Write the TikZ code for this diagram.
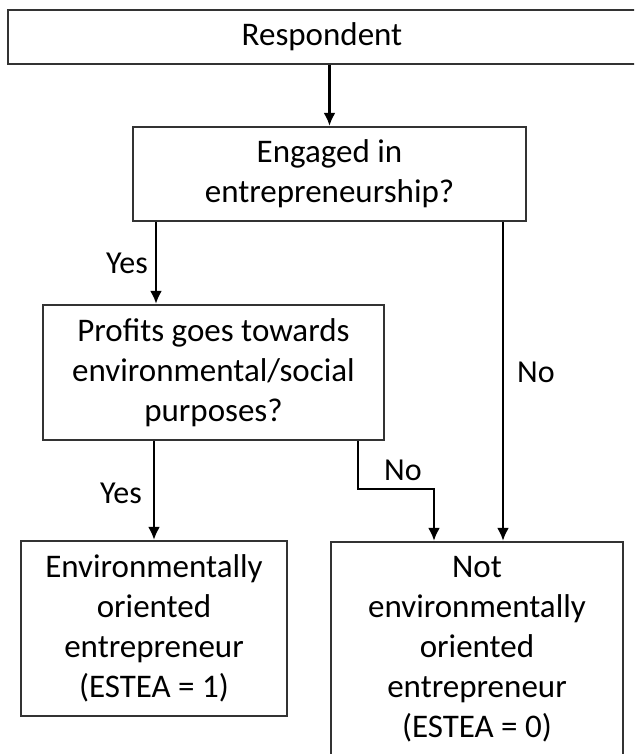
\documentclass[tikz,border=0pt]{standalone}
\usepackage{fontspec}
\setmainfont{Carlito}
\usetikzlibrary{arrows.meta}
\begin{document}
\begin{tikzpicture}[x=1pt,y=-1pt,
  box/.style={draw=black!80, line width=2.2pt, inner sep=0pt, align=center,
    font=\fontsize{33}{40}\selectfont, text=black},
  lbl/.style={font=\fontsize{32}{38}\selectfont, text=black, inner sep=0pt},
  arr/.style={draw=black, line width=2.6pt, -{Latex[length=13pt,width=12pt]}},
  ln/.style={draw=black, line width=2.6pt}]
\useasboundingbox (0,0) rectangle (634,754);
\clip (0,0) rectangle (634,754);
\fill[white] (0,0) rectangle (634,754);

\node[box, minimum width=628pt, minimum height=54pt] (resp) at (322,37) {Respondent};
\node[box, minimum width=393pt, minimum height=94pt] (eng) at (329.5,174) {Engaged in\\entrepreneurship?};
\node[box, minimum width=341pt, minimum height=135pt] (prof) at (213.5,372.5) {Profits goes towards\\environmental/social\\purposes?};
\node[box, minimum width=266pt, minimum height=175pt] (env) at (154,628.5) {Environmentally\\oriented\\entrepreneur\\(ESTEA = 1)};
\node[box, minimum width=292pt, minimum height=214pt] (nenv) at (477,649) {Not\\environmentally\\oriented\\entrepreneur\\(ESTEA = 0)};

\coordinate (xa) at (156,0);
\coordinate (xb) at (503,0);
\coordinate (xc) at (154,0);
\coordinate (xd) at (358,0);
\coordinate (bend1) at (358,489);
\coordinate (bend2) at (434,489);

\draw[arr] (eng.north |- resp.south) -- (eng.north);
\draw[arr] (eng.south -| xa) -- (prof.north -| xa);
\draw[arr] (eng.south -| xb) -- (nenv.north -| xb);
\draw[arr] (prof.south -| xc) -- (env.north -| xc);
\draw[arr] (prof.south -| xd) -- (bend1) -- (bend2) -- (nenv.north -| bend2);

\node[lbl] (l1) at (127,263) {Yes};
\node[lbl] (l2) at (121,493) {Yes};
\node[lbl] (l3) at (536,372) {No};
\node[lbl] (l4) at (403,470) {No};
\end{tikzpicture}
\end{document}
